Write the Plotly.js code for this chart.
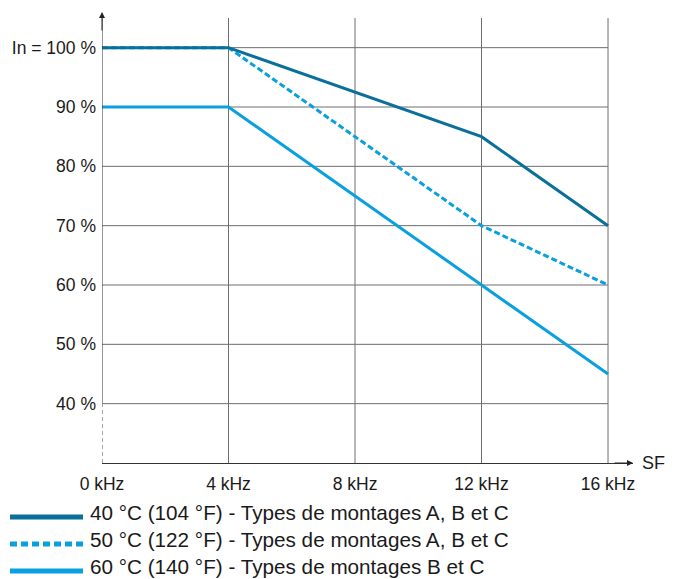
<!DOCTYPE html>
<html>
<head>
<meta charset="utf-8">
<script src="https://cdn.plot.ly/plotly-3.0.1.min.js"></script>
<style>html,body{margin:0;padding:0;background:#fff;}#chart{width:692px;height:579px;}</style>
</head>
<body>
<div id="chart"></div>
<script>
// ---- data ----
const freqKHz = [0, 4, 12, 16];
const current40 = [100, 100, 85, 70];
const current50 = [100, 100, 70, 60];
const current60 = [90, 90, 60, 45];
const seriesNames = [
  "40 °C (104 °F) - Types de montages A, B et C",
  "50 °C (122 °F) - Types de montages A, B et C",
  "60 °C (140 °F) - Types de montages B et C"
];
const xTickVals = [0, 4, 8, 12, 16];
const xTickText = ["0 kHz", "4 kHz", "8 kHz", "12 kHz", "16 kHz"];
const yTickVals = [40, 50, 60, 70, 80, 90, 100];
const yTickText = ["40 %", "50 %", "60 %", "70 %", "80 %", "90 %", "In = 100 %"];

// ---- styles ----
const DARK = "#0a6f9b";
const LIGHT = "#0aa0e0";
const GRID = "#6e6e6e";
const TXT = "#1a1a1a";
const FONT = "Liberation Sans, Arial, sans-serif";

const L = 102, T = 18, W = 531, H = 445;
const px = x => (x - L) / W;
const py = y => (T + H - y) / H;

const traces = [
  {x: freqKHz, y: current60, mode: "lines", line: {color: LIGHT, width: 3}, name: seriesNames[2], showlegend: false},
  {x: freqKHz, y: current50, mode: "lines", line: {color: LIGHT, width: 3, dash: "6px,3px"}, name: seriesNames[1], showlegend: false},
  {x: freqKHz, y: current40, mode: "lines", line: {color: DARK, width: 3}, name: seriesNames[0], showlegend: false}
];

const shapes = [];
// vertical grid lines
xTickVals.filter(v => v > 0).forEach(v => shapes.push({type: "line", xref: "x", yref: "paper", x0: v, x1: v, y0: 0, y1: 1, line: {color: GRID, width: 1}, layer: "below"}));
// horizontal grid lines
yTickVals.forEach(v => shapes.push({type: "line", xref: "x", yref: "y", x0: 0, x1: 16, y0: v, y1: v, line: {color: GRID, width: 1}, layer: "below"}));
// y axis: dashed below 40 %, solid above
shapes.push({type: "line", xref: "x", yref: "y", x0: 0, x1: 0, y0: 30, y1: 40, line: {color: "#555", width: 1, dash: "4px,3px"}});
shapes.push({type: "line", xref: "x", yref: "paper", x0: 0, x1: 0, y0: py(403), y1: 1.01, line: {color: "#333", width: 1}});
// legend samples
const legY = [517, 544, 571];
const legStyles = [
  {color: DARK, width: 5},
  {color: LIGHT, width: 5, dash: "7px,4px"},
  {color: LIGHT, width: 5}
];
legY.forEach((y, i) => shapes.push({type: "line", xref: "paper", yref: "paper", x0: px(10), x1: px(83), y0: py(y), y1: py(y), line: legStyles[i]}));

const annotations = [
  // y arrow
  {xref: "x", yref: "paper", x: 0, y: py(12), ax: 0, ay: 20, showarrow: true, arrowhead: 2, arrowsize: 1.2, arrowwidth: 1, arrowcolor: "#222", text: ""},
  // x arrow
  {xref: "paper", yref: "y", x: 1, y: 30, ax: -20, ay: 0, showarrow: true, arrowhead: 2, arrowsize: 1.2, arrowwidth: 1, arrowcolor: "#222", text: ""},
  {xref: "paper", yref: "y", x: px(640), y: 30, xanchor: "left", yanchor: "middle", showarrow: false, text: "SF", font: {family: FONT, size: 18, color: TXT}}
];
const legTextY = [512, 539, 566];
legTextY.forEach((y, i) => annotations.push({xref: "paper", yref: "paper", x: px(88), y: py(y), xanchor: "left", yanchor: "middle", showarrow: false, text: seriesNames[i], font: {family: FONT, size: 20.7, color: TXT}}));

const layout = {
  width: 692, height: 579,
  margin: {l: L, r: 692 - L - W, t: T, b: 579 - T - H},
  paper_bgcolor: "#fff", plot_bgcolor: "#fff",
  showlegend: false,
  font: {family: FONT, size: 17, color: TXT},
  xaxis: {
    range: [0, 16.79], tickmode: "array", tickvals: xTickVals, ticktext: xTickText,
    showgrid: false, zeroline: false, showline: true, linecolor: "#333", linewidth: 1,
    ticks: "", ticklabelstandoff: 5, tickfont: {family: FONT, size: 17.5, color: TXT}, fixedrange: true
  },
  yaxis: {
    range: [30, 105], tickmode: "array", tickvals: yTickVals, ticktext: yTickText,
    showgrid: false, zeroline: false, showline: false,
    ticks: "", ticklabelstandoff: 5, tickfont: {family: FONT, size: 17.5, color: TXT}, fixedrange: true
  },
  shapes: shapes,
  annotations: annotations
};

Plotly.newPlot("chart", traces, layout, {displayModeBar: false, staticPlot: true});
</script>
</body>
</html>
